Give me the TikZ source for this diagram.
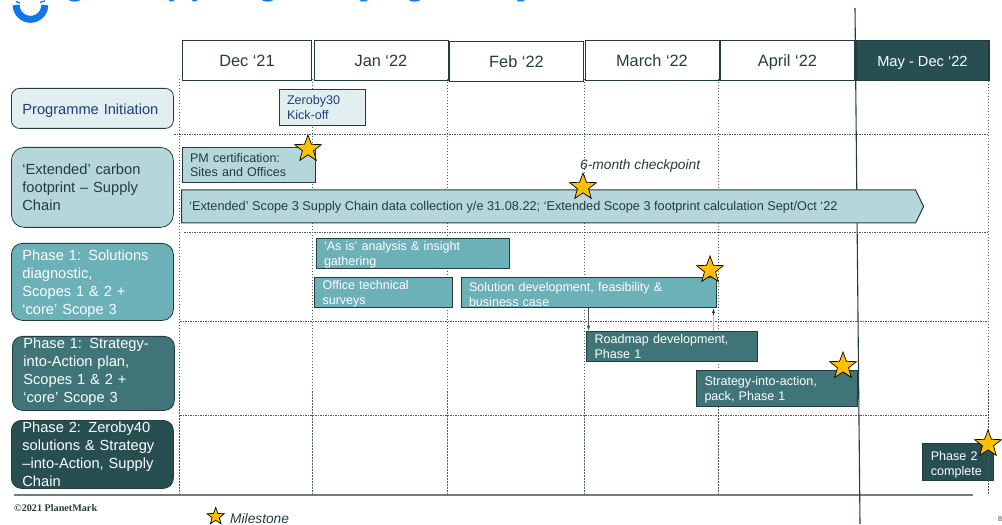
\documentclass[tikz,border=0pt]{standalone}
\usepackage{fontspec}
\setmainfont{Liberation Sans}
\newfontfamily\serifbold{Liberation Serif}
\usetikzlibrary{shapes.geometric,shapes.arrows}
\definecolor{inkdark}{HTML}{263B3E}
\definecolor{linegrey}{HTML}{4A5C5E}
\definecolor{tealpale}{HTML}{E2EFF1}
\definecolor{teallight}{HTML}{B6D7DA}
\definecolor{tealmid}{HTML}{6CB0B8}
\definecolor{tealdeep}{HTML}{3F7578}
\definecolor{tealdark}{HTML}{274E51}
\definecolor{navytext}{HTML}{1F3F7A}
\definecolor{logoblue}{HTML}{1177E8}
\definecolor{stargold}{HTML}{FFC000}
\tikzset{
  month/.style={draw=inkdark, line width=0.9bp, anchor=north west, minimum height=40bp,
    text=inkdark, font=\fontsize{16.4}{18}\selectfont, inner sep=0pt, text height=15bp, text depth=3bp},
  lane/.style={draw=inkdark, line width=0.8bp, rounded corners=#1, anchor=north west,
    align=left, inner xsep=11bp, inner ysep=0pt, text width=140bp, minimum width=162bp,
    font=\fontsize{14.7}{18}\selectfont},
  bar/.style={draw=inkdark, line width=1bp, anchor=north west, align=left,
    inner xsep=8bp, inner ysep=0pt, text width=#1,
    font=\fontsize{12.6}{15}\selectfont},
  sink/.style={execute at begin node={\rule{0pt}{#1}}},
  lift/.style={execute at end node={\rule[-#1]{0pt}{#1}}},
  milestone/.style={star, star points=5, star point ratio=2.4, draw=black, line width=0.7bp,
    fill=stargold, inner sep=0pt, minimum size=#1},
  rowline/.style={linegrey, line width=0.8bp, dash pattern=on 2bp off 1bp on 1bp off 1bp},
  colline/.style={linegrey, line width=0.9bp, dash pattern=on 1.5bp off 1.5bp},
}
\begin{document}
\begin{tikzpicture}[x=1bp, y=-1bp]
    \useasboundingbox (0,0) rectangle (1002,525);

    % Title, cut by the page
    \foreach \x/\ch in {75/g,176/y,199/y,268/g,368/p,415/g,525/p} {
        \node[anchor=base, text=logoblue, inner sep=0pt, font=\serifbold\bfseries\fontsize{30}{30}\selectfont] (title\x) at (\x,-4) {\ch};
    }
    \draw[logoblue, line width=7bp] (16.2,5) arc[start angle=180, end angle=0, radius=14.3];
    \draw[logoblue, line width=1.3bp] (16,1.5) -- (20,3);
    \draw[logoblue, line width=1.3bp] (40,2.5) -- (45,0.8);

    % Grid
    \foreach \x in {179.5,312,447,584,718.5} {
        \draw[colline] (\x,79) -- (\x,495);
    }
    \foreach \x/\y in {174/134.5,184/232,180/321.5,180/415} {
        \draw[rowline] (\x,\y) -- (988,\y);
    }
    \draw[linegrey!80, line width=1.2bp] (14,495) -- (973,495);
    \draw[inkdark, line width=1.1bp] (855,8) -- (860,524);

    % Months
    \node[month, minimum width=129bp] (dec) at (182,40.5) {Dec ‘21};
    \node[month, minimum width=134bp] (jan) at (313.5,40) {Jan ‘22};
    \node[month, minimum width=134bp] (feb) at (449,41) {Feb ‘22};
    \node[month, minimum width=134bp] (mar) at (584.5,40) {March ‘22};
    \node[month, minimum width=134bp] (apr) at (720,40) {April ‘22};
    \node[month, minimum width=133bp, fill=tealdark, text=white, font=\fontsize{14.7}{18}\selectfont] (may) at (855.5,40) {May - Dec ‘22};

    % Lanes
    \node[lane=8bp, sink=15bp, fill=tealpale, text=navytext, minimum height=40bp] (initiation) at (11,88) {Programme Initiation};
    \node[lane=13bp, fill=teallight, text=inkdark, minimum height=80bp] (footprint) at (11,147) {‘Extended’ carbon\\footprint – Supply\\Chain};
    \node[lane=11bp, sink=15bp, fill=tealmid, text=white, minimum height=77bp] (diagnostic) at (11,243) {Phase 1: Solutions\\diagnostic,\\Scopes 1 \& 2 +\\‘core’ Scope 3};
    \node[lane=10bp, lift=7bp, fill=tealdeep, text=white, minimum height=74bp] (plan) at (12,336) {Phase 1: Strategy-\\into-Action plan,\\Scopes 1 \& 2 +\\‘core’ Scope 3};
    \node[lane=10bp, fill=tealdark, text=white, minimum height=68bp] (supply) at (11,420) {Phase 2: Zeroby40\\solutions \& Strategy\\–into-Action, Supply\\Chain};

    % Bars
    \node[bar=70bp, fill=tealpale, text=navytext, minimum height=36.5bp] (kickoff) at (278.5,89) {Zeroby30\\Kick-off};
    \node[bar=117bp, fill=teallight, text=inkdark, minimum height=35bp] (pmcert) at (181.5,147) {PM certification:\\Sites and Offices};
    \node[single arrow, draw=inkdark, line width=1bp, fill=teallight, anchor=west,
        single arrow head extend=0pt, single arrow tip angle=128, shape border rotate=0,
        minimum height=742bp, minimum width=33bp, inner sep=0pt] (collection) at (181,206.5) {};
    \node[anchor=west, inner sep=0pt, text=inkdark, font=\fontsize{12.78}{15}\selectfont] (collectiontext) at (189,207.5) {‘Extended’ Scope 3 Supply Chain data collection y/e 31.08.22; ‘Extended Scope 3 footprint calculation Sept/Oct ‘22};
    \node[bar=177bp, sink=12bp, fill=tealmid, text=white, minimum height=30bp] (asis) at (315.5,238) {‘As is’ analysis \& insight\\gathering};
    \node[bar=122bp, sink=12bp, fill=tealmid, text=white, minimum height=30.5bp] (surveys) at (314,277) {Office technical\\surveys};
    \node[bar=239bp, sink=12bp, fill=tealmid, text=white, minimum height=30.5bp] (solution) at (460.5,277) {Solution development, feasibility \&\\business case};
    \node[bar=155bp, fill=tealdeep, text=white, minimum height=30.5bp] (roadmap) at (586,330.7) {Roadmap development,\\Phase 1};
    \node[bar=145bp, sink=12bp, fill=tealdeep, text=white, minimum height=36bp] (pack) at (696,370) {Strategy-into-action,\\pack, Phase 1};
    \node[bar=55bp, sink=14bp, fill=tealdark, text=white, minimum height=37bp] (complete) at (922.3,443) {Phase 2\\complete};
    \draw[colline] (988.5,81) -- (988.5,495);
    \draw[inkdark, line width=0.9bp] (855.5,80) -- (855.5,40) -- (988.5,40) -- (988.5,80);

    % Links
    \coordinate (downx) at (588.5,0);
    \coordinate (upx) at (713.5,0);
    \draw[linegrey, line width=0.8bp, -latex] (solution.south -| downx) -- (roadmap.north -| downx);
    \draw[linegrey!45, line width=1.6bp] (roadmap.north -| upx) -- (713.5,313);
    \draw[-latex, inkdark, line width=0.6bp] (713.5,315) -- (solution.south -| upx);

    % Stars
    \foreach \sx/\sy/\sname in {308/149/certstar,583/187/checkstar,710/270/solutionstar,843/366/packstar,988/444/completestar} {
        \node[milestone=28bp] (\sname) at (\sx,\sy) {};
    }
    \node[milestone=18bp] (keystar) at (215.7,516.5) {};

    % Labels
    \node[anchor=west, inner sep=0pt, text=inkdark, font=\itshape\fontsize{13.8}{15}\selectfont] (checkpoint) at (580,166) {6-month checkpoint};
    \node[anchor=west, inner sep=0pt, text=inkdark, font=\itshape\fontsize{13.8}{15}\selectfont] (keytext) at (230,518.5) {Milestone};
    \node[anchor=west, inner sep=0pt, text=inkdark, font=\serifbold\bfseries\fontsize{10.2}{11}\selectfont] (copyright) at (14,508) {©2021 PlanetMark};
    \node[anchor=west, inner sep=0pt, text=inkdark, font=\fontsize{7}{8}\selectfont] (pagenum) at (998,519) {8};
\end{tikzpicture}
\end{document}
